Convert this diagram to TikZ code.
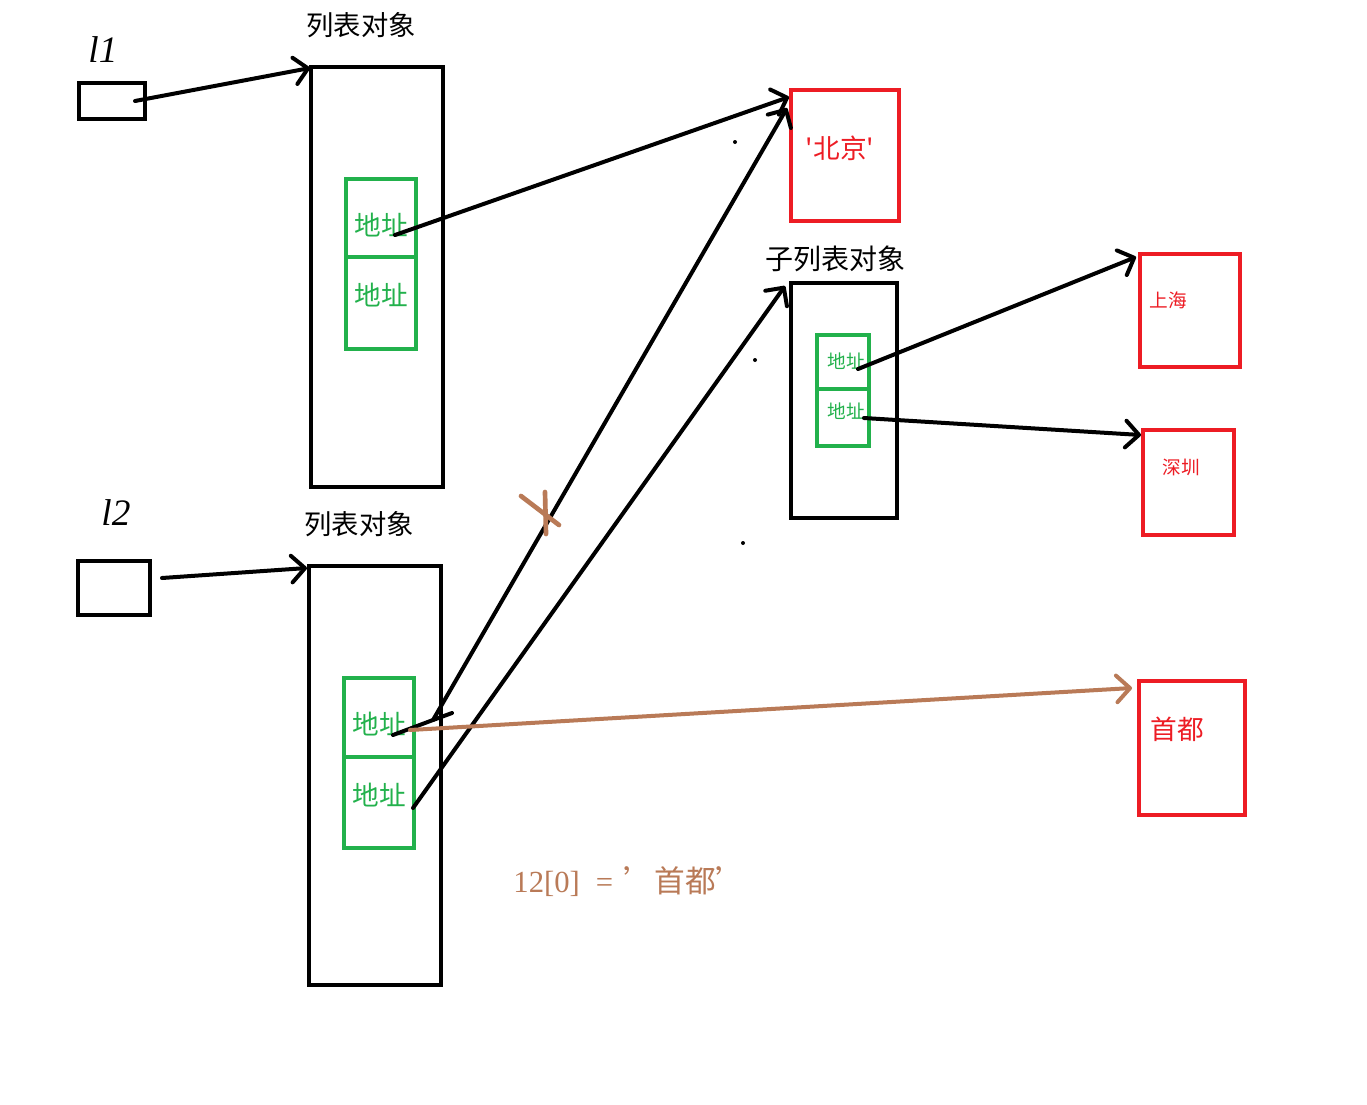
\documentclass[tikz,border=0pt]{standalone}
\usepackage{fontspec}
\setmainfont{Liberation Serif}
\newfontfamily\cjk{Noto Sans CJK SC}
\usetikzlibrary{arrows.meta,fit}
\definecolor{pgreen}{HTML}{22B14C}
\definecolor{pred}{HTML}{ED1C24}
\definecolor{pbrown}{HTML}{B97A57}
\begin{document}
\begin{tikzpicture}[x=0.75pt,y=-0.75pt,
  box/.style={draw=black, line width=3pt, inner sep=0pt},
  gbox/.style={draw=pgreen, line width=3pt, inner sep=0pt},
  rbox/.style={draw=pred, line width=3pt, inner sep=0pt},
  title/.style={font=\cjk\fontsize{20.5}{20.5}\selectfont, inner sep=0pt},
  gtext/.style={text=pgreen, font=\cjk\fontsize{20}{20}\selectfont, inner sep=0pt},
  gsmall/.style={text=pgreen, font=\cjk\fontsize{14}{14}\selectfont, inner sep=0pt},
  rtext/.style={text=pred, font=\cjk\fontsize{20}{20}\selectfont, inner sep=0pt},
  rsmall/.style={text=pred, font=\cjk\fontsize{14}{14}\selectfont, inner sep=0pt},
  hand/.style={font=\itshape\fontsize{28}{28}\selectfont, inner sep=0pt},
  link/.style={line width=3pt, line cap=round, line join=round,
    -{Straight Barb[round,length=10pt,width=20pt]}},
  blink/.style={link, draw=pbrown},
  dot/.style={fill=black, circle, inner sep=0pt, minimum size=3pt}
]
\useasboundingbox (0,0) rectangle (1367,1104);
\fill[white] (0,0) rectangle (1367,1104);

% variables
\node[box, fit={(79,83)(145,119)}] (l1box) {};
\node[hand] (l1lab) at (103,50) {l1};
\node[box, fit={(78,561)(150,615)}] (l2box) {};
\node[hand] (l2lab) at (116,513) {l2};

% list object 1
\node[title] (t1) at (361,25) {列表对象};
\node[box, fit={(311,67)(443,487)}] (list1) {};
\node[gbox, fit={(346,179)(416,257)}] (g1a) {};
\node[gbox, fit={(346,257)(416,349)}] (g1b) {};
\node[gtext] (g1at) at (381,225) {地址};
\node[gtext] (g1bt) at (381,295) {地址};

% list object 2
\node[title] (t2) at (359,524) {列表对象};
\node[box, fit={(309,566)(441,985)}] (list2) {};
\node[gbox, fit={(344,678)(414,757)}] (g2a) {};
\node[gbox, fit={(344,757)(414,848)}] (g2b) {};
\node[gtext] (g2at) at (379,724) {地址};
\node[gtext] (g2bt) at (379,795) {地址};

% Beijing
\node[rbox, fit={(791,90)(899,221)}] (bj) {};
\node[rtext] (bjt) at (840,148) {'北京'};

% sub list
\node[title, font=\cjk\fontsize{21}{21}\selectfont] (t3) at (835,259) {子列表对象};
\node[box, fit={(791,283)(897,518)}] (sub) {};
\node[gbox, fit={(817,335)(869,389)}] (s1) {};
\node[gbox, fit={(817,389)(869,446)}] (s2) {};
\node[gsmall] (s1t) at (846,361) {地址};
\node[gsmall] (s2t) at (846,411) {地址};

% Shanghai, Shenzhen, Shoudu
\node[rbox, fit={(1140,254)(1240,367)}] (sh) {};
\node[rsmall] (sht) at (1168,300) {上海};
\node[rbox, fit={(1143,430)(1234,535)}] (sz) {};
\node[rsmall] (szt) at (1181,467) {深圳};
\node[rbox, fit={(1139,681)(1245,815)}] (sd) {};
\node[rtext] (sdt) at (1177,729) {首都};

% note
\node[text=pbrown, inner sep=0pt, font=\fontsize{23}{23}\selectfont] (note) at (630,882)
  {12[0]\hspace{12pt}=\hspace{8pt}{\cjk ’首都’}};

% connector anchors
\coordinate (a1) at (135,101);
\coordinate (e1) at (310,68);
\coordinate (a2) at (162,578);
\coordinate (e2) at (307,568);
\coordinate (a3) at (395,235);
\coordinate (e3) at (789,97);
\coordinate (a4) at (393,735);
\coordinate (k4) at (433,720);
\coordinate (e4) at (787,108);
\coordinate (a5) at (413,808);
\coordinate (e5) at (785,286);
\coordinate (a6) at (858,369);
\coordinate (e6) at (1136,257);
\coordinate (a7) at (864,418);
\coordinate (e7) at (1141,435);
\coordinate (a8) at (410,730);
\coordinate (e8) at (1132,688);

\draw[link] (a1) -- (e1);
\draw[link] (a2) -- (e2);
\draw[link] (a3) -- (e3);
\draw[link] (a4) -- (k4) -- (e4);
\draw[line width=3pt, line cap=round] (k4) -- (452,713);
\draw[link] (a5) -- (e5);
\draw[link] (a6) -- (e6);
\draw[link] (a7) -- (e7);
\draw[blink] (a8) -- (e8);

% cross mark
\draw[pbrown, line width=3.5pt, line cap=round] (521,496) -- (559,525);
\draw[pbrown, line width=3.5pt, line cap=round] (545,492) -- (546,534);

% stray dots
\node[dot] (d1) at (735,142) {};
\node[dot] (d2) at (755,360) {};
\node[dot] (d3) at (743,543) {};
\end{tikzpicture}
\end{document}
